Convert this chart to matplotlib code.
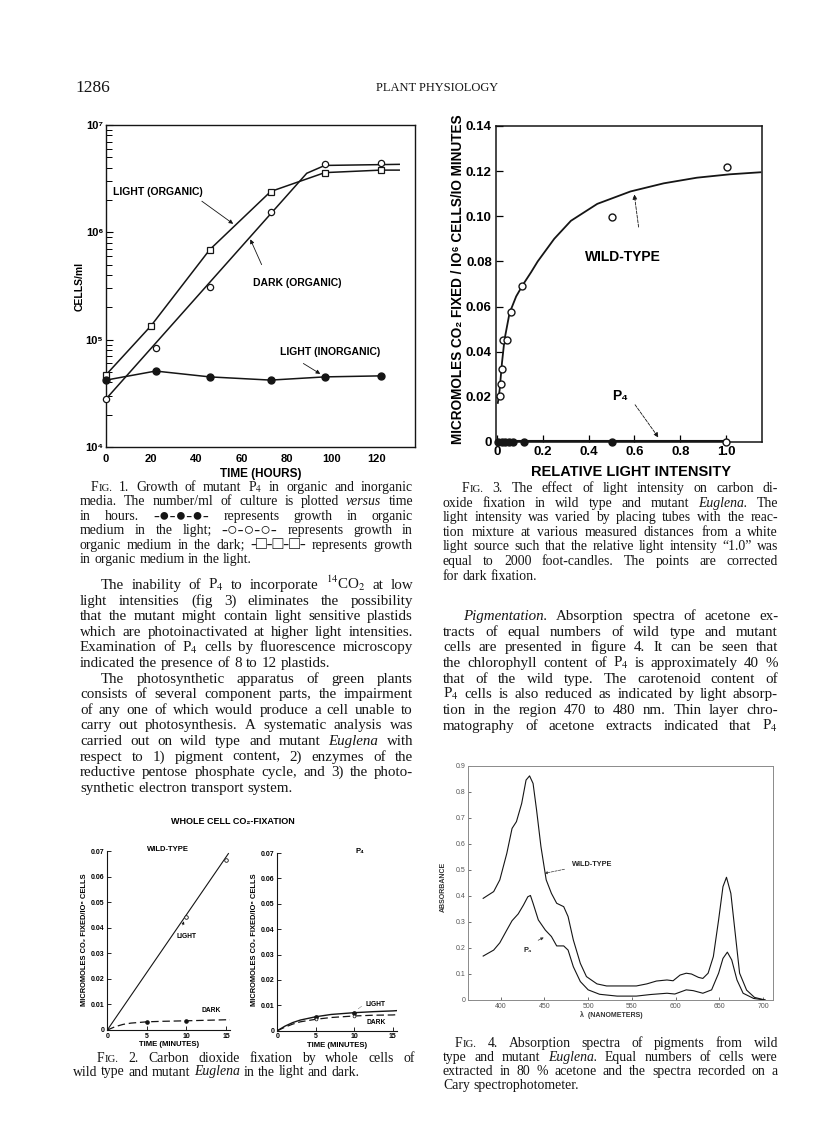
import matplotlib
matplotlib.use('Agg')
import matplotlib.pyplot as plt
from matplotlib.ticker import FixedLocator, NullFormatter

plt.rcParams['mathtext.fontset'] = 'stix'
plt.rcParams['font.family'] = ['Liberation Sans', 'DejaVu Sans']

W, H = 816, 1143
INK = '#151515'
B = 'bold'

# ---------------- Fig. 1 data (cells/ml vs hours) ----------------
light_org_hours = [0, 20, 46, 73, 97, 122]
light_org_cells = [4.7e4, 1.35e5, 6.9e5, 2.4e6, 3.6e6, 3.8e6]
light_org_line_hours = [0, 20, 46, 73, 97, 122, 130]
light_org_line_cells = [4.7e4, 1.35e5, 6.9e5, 2.4e6, 3.6e6, 3.8e6, 3.8e6]
dark_org_hours = [0, 22, 46, 73, 97, 122]
dark_org_cells = [2.8e4, 8.4e4, 3.1e5, 1.55e6, 4.3e6, 4.4e6]
dark_org_line_hours = [0, 89, 97, 130]
dark_org_line_cells = [2.8e4, 3.55e6, 4.2e6, 4.3e6]
light_inorg_hours = [0, 22, 46, 73, 97, 122]
light_inorg_cells = [4.2e4, 5.1e4, 4.5e4, 4.2e4, 4.5e4, 4.6e4]
fig1_xticks = [0, 20, 40, 60, 80, 100, 120]
fig1_yticks = [1e4, 1e5, 1e6, 1e7]
fig1_yticklabels = ['10⁴', '10⁵', '10⁶', '10⁷']

# ---------------- Fig. 2 data (CO2 fixed vs minutes) ----------------
wt_light_pts_min = [10, 15]
wt_light_pts_val = [0.0443, 0.0665]
wt_light_line_min = [0, 15.3]
wt_light_line_val = [0, 0.069]
wt_dark_min = [0, 1, 2, 3, 5, 7, 10, 12.5, 15, 15.5]
wt_dark_val = [0, 0.0013, 0.0022, 0.0027, 0.0032, 0.0034, 0.0036, 0.0038, 0.0040, 0.0040]
wt_dark_pts_min = [5, 10]
wt_dark_pts_val = [0.0032, 0.0034]
p4_light_min = [0, 1, 2, 3, 5, 7, 10, 12.5, 15, 15.5]
p4_light_val = [0, 0.0018, 0.0032, 0.0042, 0.0055, 0.0064, 0.0071, 0.0075, 0.0078, 0.0079]
p4_dark_min = [0, 1, 2, 3, 5, 7, 10, 12.5, 15, 15.5]
p4_dark_val = [0, 0.0014, 0.0026, 0.0035, 0.0045, 0.0052, 0.0058, 0.0061, 0.0062, 0.0063]
p4_pts_min = [5, 10]
p4_light_pts_val = [0.0055, 0.0071]
p4_dark_pts_val = [0.0047, 0.0058]
fig2_xticks = [0, 5, 10, 15]
fig2_xticklabels = ['0', '5', '10', '15']
fig2_yticks = [0, 0.01, 0.02, 0.03, 0.04, 0.05, 0.06, 0.07]
fig2_yticklabels = ['0', '0.01', '0.02', '0.03', '0.04', '0.05', '0.06', '0.07']

# ---------------- Fig. 3 data (rate vs relative light intensity) ----------------
wt_intensity = [0.012, 0.016, 0.022, 0.027, 0.045, 0.061, 0.111, 0.504, 1.003]
wt_rate = [0.0202, 0.0258, 0.0323, 0.0450, 0.0453, 0.0574, 0.0693, 0.0999, 0.1220]
wt_curve_intensity = [0.004, 0.012, 0.022, 0.033, 0.055, 0.084, 0.113, 0.149, 0.178,
                      0.250, 0.323, 0.438, 0.583, 0.728, 0.873, 1.017, 1.150]
wt_curve_rate = [0.0173, 0.0232, 0.0350, 0.0453, 0.0571, 0.0645, 0.0696, 0.0752, 0.0800,
                 0.0900, 0.0980, 0.1055, 0.1110, 0.1146, 0.1171, 0.1186, 0.1195]
p4_intensity = [0.004, 0.023, 0.036, 0.051, 0.071, 0.120, 0.504]
p4_rate = [0, 0, 0, 0, 0, 0, 0]
p4_open_intensity = [1.0]
p4_open_rate = [0]
p4_line_intensity = [0, 1.0]
p4_line_rate = [0.0005, 0.0005]
fig3_xticks = [0, 0.2, 0.4, 0.6, 0.8, 1.0]
fig3_xticklabels = ['0', '0.2', '0.4', '0.6', '0.8', '1.0']
fig3_yticks = [0, 0.02, 0.04, 0.06, 0.08, 0.10, 0.12, 0.14]
fig3_yticklabels = ['0', '0.02', '0.04', '0.06', '0.08', '0.10', '0.12', '0.14']

# ---------------- Fig. 4 data (absorbance spectra) ----------------
wt_nm = [380, 392, 399, 407, 413, 418, 424, 429, 433, 437, 441, 446, 452, 458, 464, 472,
         477, 483, 491, 498, 510, 521, 540, 555, 567, 578, 590, 597, 605, 612, 618, 626,
         631, 637, 643, 649, 654, 658, 663, 668, 673, 681, 690, 702]
wt_abs = [0.391, 0.417, 0.462, 0.564, 0.660, 0.686, 0.756, 0.846, 0.862, 0.833, 0.731,
          0.590, 0.462, 0.410, 0.372, 0.359, 0.321, 0.231, 0.141, 0.090, 0.062, 0.054,
          0.054, 0.054, 0.062, 0.073, 0.077, 0.074, 0.096, 0.103, 0.100, 0.087, 0.083,
          0.103, 0.167, 0.308, 0.436, 0.472, 0.410, 0.256, 0.103, 0.038, 0.010, 0.0]
p4_nm = [380, 392, 399, 407, 413, 420, 426, 431, 434, 437, 443, 451, 458, 464, 472, 477,
         483, 491, 500, 513, 533, 555, 571, 590, 599, 612, 620, 631, 641, 649, 654, 659,
         664, 670, 677, 689, 702]
p4_abs = [0.169, 0.192, 0.220, 0.269, 0.305, 0.331, 0.365, 0.397, 0.402, 0.372, 0.308,
          0.269, 0.244, 0.208, 0.208, 0.192, 0.128, 0.071, 0.039, 0.022, 0.015, 0.015,
          0.021, 0.026, 0.023, 0.039, 0.036, 0.026, 0.039, 0.103, 0.160, 0.184, 0.154,
          0.077, 0.026, 0.006, 0.0]
fig4_xticks = [400, 450, 500, 550, 600, 650, 700]
fig4_xticklabels = ['400', '450', '500', '550', '600', '650', '700']
fig4_yticks = [0, 0.1, 0.2, 0.3, 0.4, 0.5, 0.6, 0.7, 0.8, 0.9]
fig4_yticklabels = ['0', '0.1', '0.2', '0.3', '0.4', '0.5', '0.6', '0.7', '0.8', '0.9']

# ---------------- page text ----------------
fig1_caption = [
    "FIG. 1. Growth of mutant P$_4$ in organic and inorganic",
    "media. The number/ml of culture is plotted *versus* time",
    "in hours. -●-●-●- represents growth in organic",
    "medium in the light; -○-○-○- represents growth in",
    "organic medium in the dark; -□-□-□- represents growth",
    "in organic medium in the light.",
]
body_left_p1 = [
    "The inability of P$_4$ to incorporate $^{14}$CO$_2$ at low",
    "light intensities (fig 3) eliminates the possibility",
    "that the mutant might contain light sensitive plastids",
    "which are photoinactivated at higher light intensities.",
    "Examination of P$_4$ cells by fluorescence microscopy",
    "indicated the presence of 8 to 12 plastids.",
]
body_left_p2 = [
    "The photosynthetic apparatus of green plants",
    "consists of several component parts, the impairment",
    "of any one of which would produce a cell unable to",
    "carry out photosynthesis. A systematic analysis was",
    "carried out on wild type and mutant *Euglena* with",
    "respect to 1) pigment content, 2) enzymes of the",
    "reductive pentose phosphate cycle, and 3) the photo-",
    "synthetic electron transport system.",
]
fig2_caption = [
    "FIG. 2. Carbon dioxide fixation by whole cells of",
    "wild type and mutant *Euglena* in the light and dark.",
]
fig3_caption = [
    "FIG. 3. The effect of light intensity on carbon di-",
    "oxide fixation in wild type and mutant *Euglena.* The",
    "light intensity was varied by placing tubes with the reac-",
    "tion mixture at various measured distances from a white",
    "light source such that the relative light intensity “1.0” was",
    "equal to 2000 foot-candles. The points are corrected",
    "for dark fixation.",
]
body_right = [
    "*Pigmentation.* Absorption spectra of acetone ex-",
    "tracts of equal numbers of wild type and mutant",
    "cells are presented in figure 4. It can be seen that",
    "the chlorophyll content of P$_4$ is approximately 40 %",
    "that of the wild type. The carotenoid content of",
    "P$_4$ cells is also reduced as indicated by light absorp-",
    "tion in the region 470 to 480 nm. Thin layer chro-",
    "matography of acetone extracts indicated that P$_4$",
]
fig4_caption = [
    "FIG. 4. Absorption spectra of pigments from wild",
    "type and mutant *Euglena.* Equal numbers of cells were",
    "extracted in 80 % acetone and the spectra recorded on a",
    "Cary spectrophotometer.",
]

fig = plt.figure(figsize=(W / 100, H / 100), dpi=100)
fig.patch.set_facecolor('white')
renderer = fig.canvas.get_renderer()
SERIF = ['Liberation Serif', 'DejaVu Serif', 'DejaVu Sans']

BODY = 10.8
CAP = 9.9


def px_axes(l, t, r, b):
    return fig.add_axes([l / W, 1 - b / H, (r - l) / W, (b - t) / H])


def boldticks(ax):
    for lab in ax.get_xticklabels() + ax.get_yticklabels():
        lab.set_fontweight(B)


def _txt(s, size, style='normal'):
    return fig.text(0, 0, s, fontsize=size, family=SERIF, style=style,
                    weight='normal', va='baseline', ha='left', color=INK)


def make_word(tok, size):
    style = 'normal'
    if len(tok) > 2 and tok.startswith('*') and tok.endswith('*'):
        tok = tok[1:-1]
        style = 'italic'
    if tok == 'FIG.':
        parts = [_txt('F', size), _txt('IG.', size * 0.78)]
    elif any(c in tok for c in '●○□'):
        parts = [_txt(tok, size * 1.3)]
    else:
        parts = [_txt(tok, size, style)]
    widths = [p.get_window_extent(renderer).width for p in parts]
    return parts, widths


def place_line(line, x0, x1, y, size, justify=True):
    toks = line.split()
    words = [make_word(t, size) for t in toks]
    total = sum(sum(w) for _, w in words)
    gap = size * 100 / 72 * 0.26
    if justify and len(words) > 1:
        gap = (x1 - x0 - total) / (len(words) - 1)
    x = x0
    for parts, widths in words:
        for p, w in zip(parts, widths):
            p.set_position((x / W, 1 - y / H))
            x += w
        x += gap


def place_block(lines, x0, x1, y0, dy, size, indent, last_justify=False):
    for i, line in enumerate(lines):
        xs = x0 + (indent if i == 0 else 0)
        last = (i == len(lines) - 1)
        place_line(line, xs, x1, y0 + i * dy, size, justify=(not last or last_justify))


# ---------------- header ----------------
fig.text(75 / W, 1 - 92 / H, '1286', fontsize=12.5, family=SERIF, color=INK)
fig.text(437 / W, 1 - 91 / H, 'PLANT PHYSIOLOGY', fontsize=9, family=SERIF, color=INK, ha='center')

# ---------------- Fig. 1 ----------------
ax1 = px_axes(106, 125, 415, 447)
ax1.set_yscale('log')
ax1.plot(light_org_line_hours, light_org_line_cells, color=INK, lw=1.1)
ax1.plot(dark_org_line_hours, dark_org_line_cells, color=INK, lw=1.1)
ax1.plot(light_inorg_hours, light_inorg_cells, color=INK, lw=1.1)
ax1.plot(light_org_hours, light_org_cells, ls='none', marker='s', ms=4.5, mfc='white',
         mec=INK, mew=0.9, clip_on=False, zorder=3)
ax1.plot(dark_org_hours, dark_org_cells, ls='none', marker='o', ms=4.5, mfc='white',
         mec=INK, mew=0.9, clip_on=False, zorder=3)
ax1.plot(light_inorg_hours, light_inorg_cells, ls='none', marker='o', ms=5, mfc=INK,
         mec=INK, clip_on=False, zorder=3)
ax1.set_xlim(0, 137)
ax1.set_ylim(1e4, 1e7)
ax1.set_xticks(fig1_xticks)
ax1.set_xticklabels([str(v) for v in fig1_xticks])
ax1.yaxis.set_major_locator(FixedLocator(fig1_yticks))
ax1.yaxis.set_minor_locator(FixedLocator([m * 10 ** e for e in (4, 5, 6) for m in range(2, 10)]))
ax1.yaxis.set_minor_formatter(NullFormatter())
ax1.set_yticklabels(fig1_yticklabels)
ax1.tick_params(axis='y', which='major', direction='in', length=5, width=0.8, pad=2, labelsize=8)
ax1.tick_params(axis='y', which='minor', direction='in', length=4, width=0.7)
ax1.tick_params(axis='x', length=0, pad=5, labelsize=8)
boldticks(ax1)
for s in ax1.spines.values():
    s.set_linewidth(1.0)
    s.set_color(INK)
ax1.set_xlabel('TIME (HOURS)', fontsize=8.5, labelpad=3, fontweight=B)
fig.text(80 / W, 1 - 286 / H, 'CELLS/ml', rotation=90, fontsize=7.5, ha='center', va='center',
         fontweight=B)
arw = dict(arrowstyle='-|>', lw=0.6, color=INK, mutation_scale=6, shrinkA=0, shrinkB=0)
ax1.text(3.1, 2.38e6, 'LIGHT (ORGANIC)', fontsize=7.5, va='center', fontweight=B)
ax1.annotate('', xy=(56.4, 1.2e6), xytext=(42.5, 1.95e6), arrowprops=arw)
ax1.text(65.3, 3.37e5, 'DARK (ORGANIC)', fontsize=7.5, va='center', fontweight=B)
ax1.annotate('', xy=(64, 8.6e5), xytext=(69, 5.0e5), arrowprops=arw)
ax1.text(77.3, 7.7e4, 'LIGHT (INORGANIC)', fontsize=7.5, va='center', fontweight=B)
ax1.annotate('', xy=(95, 4.8e4), xytext=(87.5, 6.0e4), arrowprops=arw)

place_block(fig1_caption, 80, 413, 491, 14.4, CAP, 11)
place_block(body_left_p1, 80, 413, 589, 15.6, BODY, 21)
place_block(body_left_p2, 80, 413, 589 + 6 * 15.6, 15.6, BODY, 21)

# ---------------- Fig. 3 ----------------
ax3 = px_axes(496, 126, 762, 442)
ax3.plot(wt_curve_intensity, wt_curve_rate, color=INK, lw=1.3)
ax3.plot(wt_intensity, wt_rate, ls='none', marker='o', ms=5, mfc='white', mec=INK, mew=1.0,
         clip_on=False, zorder=3)
ax3.plot(p4_line_intensity, p4_line_rate, color=INK, lw=1.5, clip_on=False)
ax3.plot(p4_intensity, p4_rate, ls='none', marker='o', ms=5, mfc=INK, mec=INK, clip_on=False, zorder=3)
ax3.plot(p4_open_intensity, p4_open_rate, ls='none', marker='o', ms=5, mfc='white', mec=INK,
         mew=1.0, clip_on=False, zorder=3)
ax3.set_xlim(-0.004, 1.157)
ax3.set_ylim(0, 0.14)
ax3.set_xticks(fig3_xticks)
ax3.set_xticklabels(fig3_xticklabels)
ax3.set_yticks(fig3_yticks)
ax3.set_yticklabels(fig3_yticklabels)
ax3.tick_params(direction='in', length=5, width=0.9, labelsize=9.5, pad=3)
boldticks(ax3)
for s in ax3.spines.values():
    s.set_linewidth(1.1)
    s.set_color(INK)
fig.text(631 / W, 1 - 476 / H, 'RELATIVE LIGHT INTENSITY', fontsize=10.5, ha='center', fontweight=B)
fig.text(458 / W, 1 - 279 / H, 'MICROMOLES CO₂ FIXED / IO⁶ CELLS/IO MINUTES', rotation=90,
         fontsize=9.8, ha='center', va='center', fontweight=B)
ax3.text(0.384, 0.0821, 'WILD-TYPE', fontsize=10, va='center', fontweight=B)
ax3.annotate('', xy=(0.598, 0.1109), xytext=(0.62, 0.094),
             arrowprops=dict(arrowstyle='-|>', lw=0.6, color=INK, mutation_scale=7, ls='--'))
ax3.text(0.502, 0.0205, 'P₄', fontsize=10, va='center', fontweight=B)
ax3.annotate('', xy=(0.712, 0.001), xytext=(0.596, 0.0175),
             arrowprops=dict(arrowstyle='-|>', lw=0.6, color=INK, mutation_scale=7, ls='--'))

place_block(fig3_caption, 443, 778, 492, 14.6, CAP, 19)
place_block(body_right, 443, 778, 620, 15.65, BODY, 20, last_justify=True)

# ---------------- Fig. 2 ----------------
fig.text(233 / W, 1 - 824 / H, 'WHOLE CELL CO₂-FIXATION', fontsize=6.5, ha='center', fontweight=B)


def fig2_axes(l, r, t, b):
    ax = px_axes(l, t, r, b)
    ax.set_xlim(0, 15.5)
    ax.set_ylim(0, 0.07)
    ax.spines['top'].set_visible(False)
    ax.spines['right'].set_visible(False)
    for s in ('left', 'bottom'):
        ax.spines[s].set_linewidth(0.8)
        ax.spines[s].set_color(INK)
    ax.set_xticks(fig2_xticks)
    ax.set_xticklabels(fig2_xticklabels)
    ax.set_yticks(fig2_yticks)
    ax.set_yticklabels(fig2_yticklabels)
    ax.tick_params(direction='in', length=3, width=0.6, labelsize=5, pad=2)
    boldticks(ax)
    ax.set_xlabel('TIME (MINUTES)', fontsize=5.6, labelpad=1, fontweight=B)
    return ax


ax2a = fig2_axes(107.3, 230, 851, 1030)
ax2a.plot(wt_light_line_min, wt_light_line_val, color=INK, lw=0.8)
ax2a.plot(wt_light_pts_min, wt_light_pts_val, ls='none', marker='o', ms=2.6, mfc='white',
          mec=INK, mew=0.6, zorder=3)
ax2a.plot(wt_dark_min, wt_dark_val, color=INK, lw=0.9, ls=(0, (6, 3)))
ax2a.plot(wt_dark_pts_min, wt_dark_pts_val, ls='none', marker='o', ms=2.3, mfc=INK, mec=INK, zorder=3)
ax2a.text(5, 0.0705, 'WILD-TYPE', fontsize=5.5, va='center', ha='left', fontweight=B)
ax2a.text(8.8, 0.0365, 'LIGHT', fontsize=4.8, va='center', fontweight=B)
ax2a.annotate('', xy=(9.8, 0.0435), xytext=(9.4, 0.040),
              arrowprops=dict(arrowstyle='-|>', lw=0.4, color=INK, mutation_scale=4))
ax2a.text(11.9, 0.0075, 'DARK', fontsize=4.8, va='center', fontweight=B)
fig.text(85 / W, 1 - 940 / H, 'MICROMOLES CO₂ FIXED/IO⁶ CELLS', rotation=90, fontsize=5.4,
         ha='center', va='center', fontweight=B)

ax2b = fig2_axes(277.3, 396.6, 853, 1030.7)
ax2b.plot(p4_light_min, p4_light_val, color=INK, lw=1.0)
ax2b.plot(p4_dark_min, p4_dark_val, color=INK, lw=0.9, ls=(0, (6, 3)))
ax2b.plot(p4_pts_min, p4_light_pts_val, ls='none', marker='o', ms=2.4, mfc=INK, mec=INK, zorder=3)
ax2b.plot(p4_pts_min, p4_dark_pts_val, ls='none', marker='o', ms=2.0, mfc='white', mec=INK,
          mew=0.5, zorder=3)
ax2b.text(10.8, 0.0705, 'P₄', fontsize=5.5, va='center', ha='center', fontweight=B)
ax2b.text(11.4, 0.0105, 'LIGHT', fontsize=4.8, va='center', fontweight=B)
ax2b.annotate('', xy=(10.2, 0.0078), xytext=(11.2, 0.0102),
              arrowprops=dict(arrowstyle='-', lw=0.4, color=INK, ls=':'))
ax2b.text(11.6, 0.0032, 'DARK', fontsize=4.8, va='center', fontweight=B)
fig.text(255 / W, 1 - 940 / H, 'MICROMOLES CO₂ FIXED/IO⁶ CELLS', rotation=90, fontsize=5.4,
         ha='center', va='center', fontweight=B)

place_block(fig2_caption, 73, 415, 1062, 13.5, CAP, 24)

# ---------------- Fig. 4 ----------------
GRAY = '#555555'
ax4 = px_axes(468.3, 766, 773.3, 1000)
ax4.plot(wt_nm, wt_abs, color=INK, lw=0.8)
ax4.plot(p4_nm, p4_abs, color=INK, lw=0.8)
ax4.set_xlim(363, 711.5)
ax4.set_ylim(0, 0.9)
ax4.set_xticks(fig4_xticks)
ax4.set_xticklabels(fig4_xticklabels)
ax4.set_yticks(fig4_yticks)
ax4.set_yticklabels(fig4_yticklabels)
ax4.tick_params(direction='in', length=2.5, width=0.6, labelsize=5, pad=2,
                colors=GRAY, labelcolor=GRAY)
for s in ax4.spines.values():
    s.set_linewidth(0.7)
    s.set_color('#8a8a8a')
fig.text(611.7 / W, 1 - 1017 / H, 'λ  (NANOMETERS)', fontsize=5, ha='center', color='#333333',
         fontweight=B)
fig.text(443 / W, 1 - 887 / H, 'ABSORBANCE', rotation=90, fontsize=5, ha='center', va='center',
         color='#333333', fontweight=B)
ax4.text(482, 0.52, 'WILD-TYPE', fontsize=5.3, va='center', color='#222222', fontweight=B)
ax4.annotate('', xy=(447, 0.485), xytext=(476, 0.505),
             arrowprops=dict(arrowstyle='-|>', lw=0.5, color='#333333', mutation_scale=4, ls='--'))
ax4.text(426, 0.19, 'P₄', fontsize=5.3, va='center', color='#222222', fontweight=B)
ax4.annotate('', xy=(452, 0.245), xytext=(440, 0.225),
             arrowprops=dict(arrowstyle='-|>', lw=0.5, color='#333333', mutation_scale=4))

place_block(fig4_caption, 443, 778, 1047, 13.9, CAP, 12)

fig.savefig('out.png', dpi=100, facecolor='white')
